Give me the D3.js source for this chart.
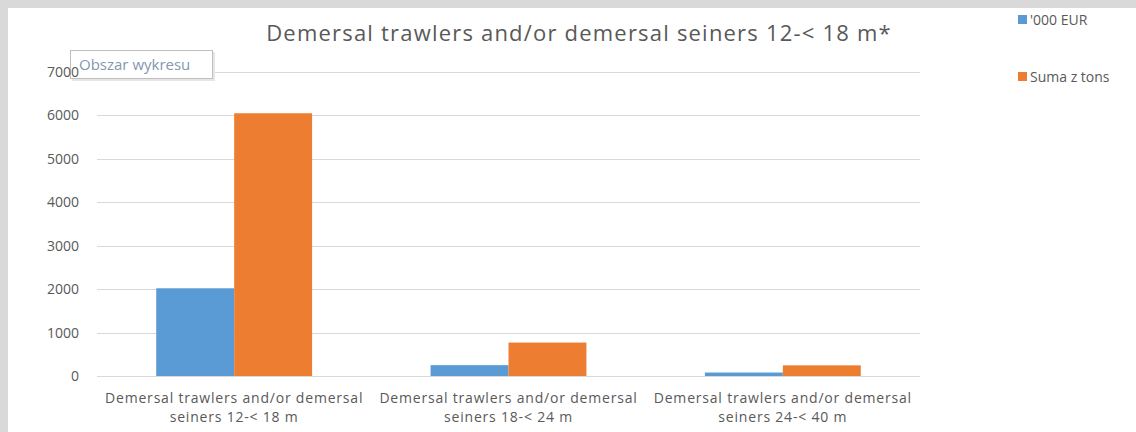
<!DOCTYPE html>
<html>
<head>
<meta charset="utf-8">
<script src="https://d3js.org/d3.v7.min.js"></script>
<style>
  body { margin: 0; background: #d9d9d9; }
  text { font-family: "Open Sans", sans-serif; fill: #595959; }
</style>
</head>
<body>
<div id="chart"></div>
<script>
var width = 1136, height = 432;

var categories = [
  ["Demersal trawlers and/or demersal", "seiners 12-< 18 m"],
  ["Demersal trawlers and/or demersal", "seiners 18-< 24 m"],
  ["Demersal trawlers and/or demersal", "seiners 24-< 40 m"]
];
var seriesNames = ["'000 EUR", "Suma z tons"];
var eurValues = [2020, 250, 80];
var tonsValues = [6050, 770, 245];
var yTicks = [0, 1000, 2000, 3000, 4000, 5000, 6000, 7000];
var colors = ["#5b9bd5", "#ed7d31"];

var svg = d3.select("#chart").append("svg")
  .attr("width", width).attr("height", height);

svg.append("rect")
  .attr("x", 8).attr("y", 8)
  .attr("width", width - 8).attr("height", height - 8)
  .attr("fill", "#fff");

var plotLeft = 97, plotRight = 920, plotTop = 72, plotBottom = 376;

var x = d3.scaleBand()
  .domain(d3.range(categories.length))
  .range([plotLeft, plotRight])
  .paddingInner(0).paddingOuter(0);

var inner = d3.scaleBand()
  .domain([0, 1])
  .range([0, x.bandwidth()])
  .paddingInner(0).paddingOuter(0.76);

var y = d3.scaleLinear().domain([0, 7000]).range([plotBottom, plotTop]);

// gridlines
svg.append("g").selectAll("line")
  .data(yTicks).enter().append("line")
  .attr("x1", plotLeft).attr("x2", plotRight)
  .attr("y1", function(d) { return Math.round(y(d)) + 0.5; })
  .attr("y2", function(d) { return Math.round(y(d)) + 0.5; })
  .attr("stroke", "#d9d9d9").attr("stroke-width", 1);

// "Obszar wykresu" tooltip box
var tip = svg.append("g").attr("transform", "translate(70,50)");
tip.append("rect")
  .attr("x", 2).attr("y", 2).attr("width", 143).attr("height", 29)
  .attr("fill", "#e6e6e6");
tip.append("rect")
  .attr("x", 0.5).attr("y", 0.5).attr("width", 142).attr("height", 28)
  .attr("fill", "#fff").attr("stroke", "#bfbfbf");
tip.append("text")
  .attr("x", 9).attr("y", 20)
  .attr("font-size", "15px")
  .style("fill", "#8497b0")
  .text("Obszar wykresu");

// y labels
svg.append("g").selectAll("text")
  .data(yTicks).enter().append("text")
  .attr("x", 79)
  .attr("y", function(d) { return y(d) + 5; })
  .attr("text-anchor", "end")
  .attr("font-size", "14px")
  .text(function(d) { return d; });

// bars
var series = [eurValues, tonsValues];
var groups = svg.append("g").selectAll("g")
  .data(categories).enter().append("g")
  .attr("transform", function(d, i) { return "translate(" + x(i) + ",0)"; });

groups.selectAll("rect")
  .data(function(d, i) { return series.map(function(s, j) { return { j: j, v: s[i] }; }); })
  .enter().append("rect")
  .attr("x", function(d) { return inner(d.j); })
  .attr("width", inner.bandwidth())
  .attr("y", function(d) { return y(d.v); })
  .attr("height", function(d) { return plotBottom - y(d.v); })
  .attr("fill", function(d) { return colors[d.j]; });

// category labels
groups.append("text")
  .attr("x", x.bandwidth() / 2)
  .attr("y", 403)
  .attr("text-anchor", "middle")
  .attr("font-size", "14px")
  .attr("letter-spacing", "0.8px")
  .selectAll("tspan")
  .data(function(d) { return d; }).enter().append("tspan")
  .attr("x", x.bandwidth() / 2)
  .attr("dy", function(d, i) { return i === 0 ? 0 : 19; })
  .text(function(d) { return d; });

// title
svg.append("text")
  .attr("x", 579).attr("y", 41)
  .attr("text-anchor", "middle")
  .attr("font-size", "22px")
  .attr("letter-spacing", "1.2px")
  .text("Demersal trawlers and/or demersal seiners 12-< 18 m*");

// legend
var legend = svg.append("g").selectAll("g")
  .data(seriesNames).enter().append("g")
  .attr("transform", function(d, i) { return "translate(1018," + (15 + i * 57) + ")"; });
legend.append("rect")
  .attr("width", 9).attr("height", 9)
  .attr("fill", function(d, i) { return colors[i]; });
legend.append("text")
  .attr("x", 12).attr("y", 10)
  .attr("font-size", "14px")
  .text(function(d) { return d; });
</script>
</body>
</html>
